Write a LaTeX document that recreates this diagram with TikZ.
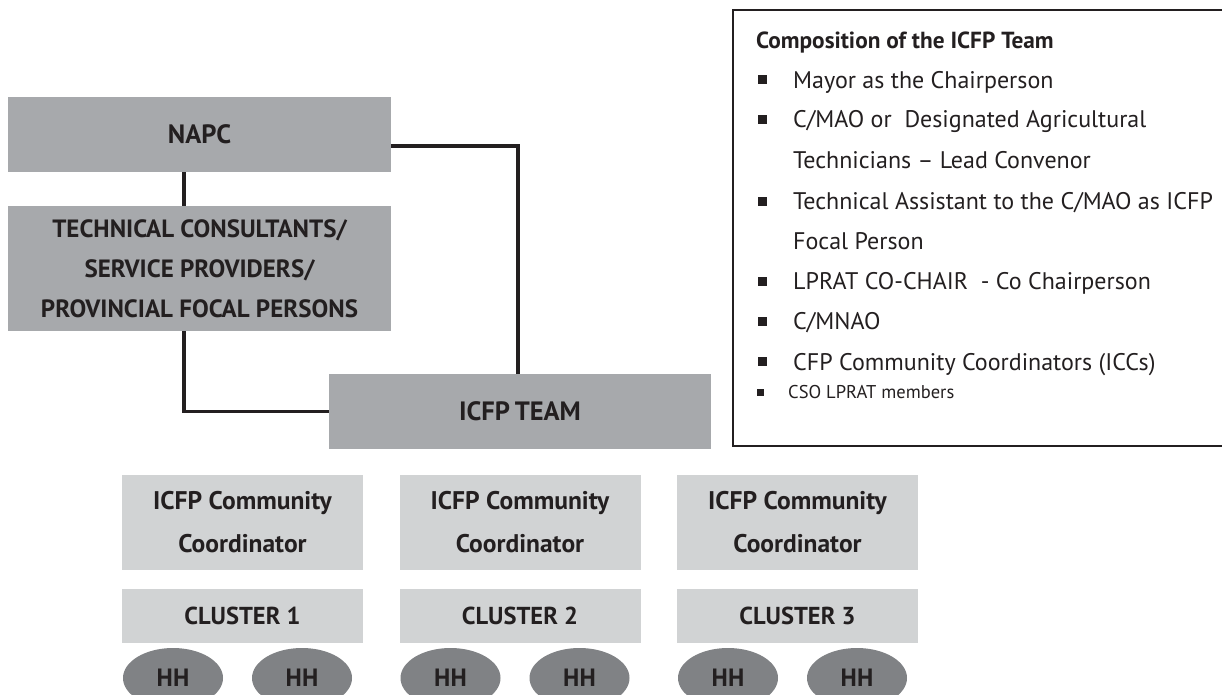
\documentclass[tikz,border=0pt]{standalone}
\usepackage{fontspec}
\setmainfont{PT Sans}
\usetikzlibrary{shapes.geometric}
\definecolor{darkbox}{HTML}{A7A9AC}
\definecolor{lightbox}{HTML}{D1D3D4}
\definecolor{hhfill}{HTML}{808285}
\definecolor{ink}{HTML}{231F20}
\begin{document}
\begin{tikzpicture}[x=1pt,y=-1pt,
  darkrect/.style={rectangle,fill=darkbox,inner sep=0pt,text=ink,align=center,
    font=\bfseries\fontsize{25}{40}\selectfont},
  coordrect/.style={rectangle,fill=lightbox,inner sep=0pt,text=ink,align=center,
    minimum width=241pt,font=\bfseries\fontsize{25.5}{43}\selectfont},
  hhnode/.style={ellipse,fill=hhfill,inner sep=0pt,minimum width=100pt,minimum height=60pt,
    text=ink,font=\bfseries\fontsize{25}{28}\selectfont},
  conn/.style={line width=3.4pt,draw=ink},
  listtext/.style={anchor=base west,inner sep=0pt,text=ink,font=\fontsize{24}{28}\selectfont},
  bulletsq/.style={rectangle,fill=ink,inner sep=0pt,minimum size=9pt}
  ]
\useasboundingbox (0,0) rectangle (1222,695);
% main boxes
\node[darkrect,minimum width=383pt,minimum height=75pt,font=\bfseries\fontsize{26.5}{40}\selectfont] (napc) at (199.5,134.5) {NAPC};
\node[darkrect,minimum width=383pt,minimum height=125pt] (tech) at (199.5,268.5)
  {TECHNICAL CONSULTANTS/\\SERVICE PROVIDERS/\\PROVINCIAL FOCAL PERSONS};
\node[darkrect,minimum width=382pt,minimum height=75pt,font=\bfseries\fontsize{26.5}{40}\selectfont] (team) at (520,411.5) {ICFP\hspace{0.18em}TEAM};
% connectors
\coordinate (v1) at (184,0);
\coordinate (j1) at (518,146);
\draw[conn] (napc.south -| v1) -- (tech.north -| v1);
\draw[conn] (napc.east |- j1) -| (team.north -| j1);
\draw[conn] (tech.south -| v1) |- (team.west);
% composition box
\draw[line width=2pt,draw=ink] (1240,10) -- (733,10) -- (733,446) -- (1240,446);
\node[anchor=base west,inner sep=0pt,text=ink,font=\bfseries\fontsize{23.3}{26}\selectfont] (ctitle) at (756,49) {Composition of the ICFP Team};
\node[bulletsq] (b1) at (762,80) {};
\node[listtext] (l1) at (793,89) {Mayor as the Chairperson};
\node[bulletsq] (b2) at (762,120) {};
\node[listtext] (l2) at (793,128) {C/MAO or\ \ Designated Agricultural};
\node[listtext] (l3) at (793,168) {Technicians – Lead Convenor};
\node[bulletsq] (b3) at (762,201) {};
\node[listtext] (l4) at (793,209) {Technical Assistant to the C/MAO as ICFP};
\node[listtext] (l5) at (793,249) {Focal Person};
\node[bulletsq] (b4) at (762,281) {};
\node[listtext] (l6) at (793,289) {LPRAT CO-CHAIR\ \ - Co Chairperson};
\node[bulletsq] (b5) at (762,321) {};
\node[listtext] (l7) at (793,329) {C/MNAO};
\node[bulletsq] (b6) at (762,361) {};
\node[listtext] (l8) at (793,370) {CFP Community Coordinators (ICCs)};
\node[bulletsq,minimum size=7pt] (b7) at (760.5,392) {};
\node[listtext,font=\fontsize{18.5}{20}\selectfont] (l9) at (788,398) {CSO LPRAT members};
% coordinators and clusters
\foreach \i/\cx in {1/242.5,2/520,3/797.5}{
  \node[coordrect,minimum height=95pt] (coord\i) at (\cx,522.5) {ICFP Community\\Coordinator};
  \node[coordrect,minimum height=54pt,font=\bfseries\fontsize{24.5}{28}\selectfont] (clus\i) at (\cx,616) {CLUSTER \i};
  \node[hhnode] (hha\i) at (\cx-69.5,678) {HH};
  \node[hhnode] (hhb\i) at (\cx+59.5,678) {HH};
}
\end{tikzpicture}
\end{document}
